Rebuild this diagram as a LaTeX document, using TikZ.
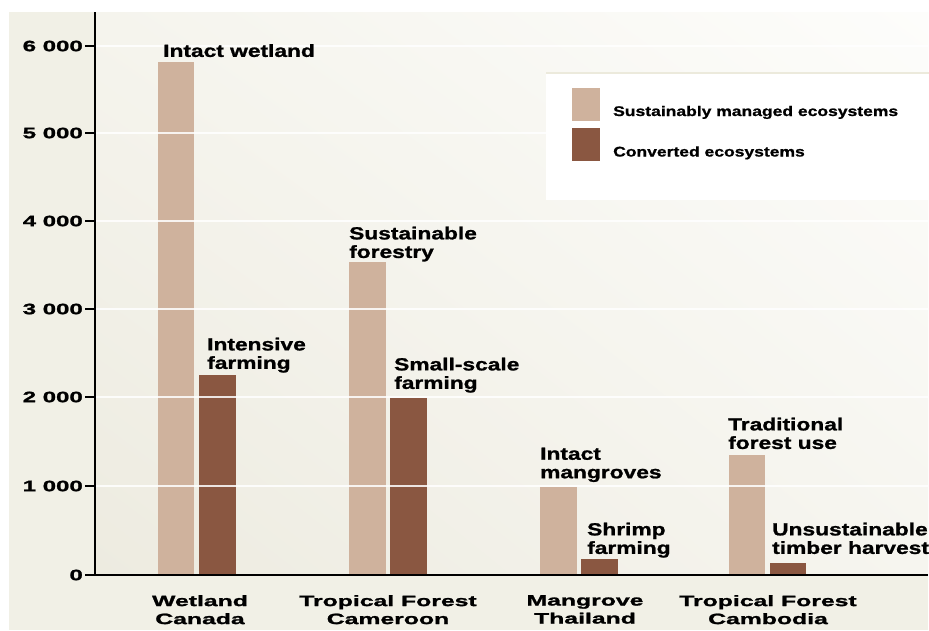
\documentclass[tikz,border=0pt]{standalone}
\usepackage{fontspec}
\usetikzlibrary{shadings}
\setmainfont{Liberation Sans}
\newfontfamily\lblfont[FakeStretch=1.3,FakeBold=1.2]{Liberation Sans}
\newfontfamily\catfont[FakeStretch=1.65,FakeBold=1.5]{Liberation Sans}
\newfontfamily\tickfont[FakeStretch=1.6,FakeBold=1.5]{Liberation Sans}
\newfontfamily\legfont[FakeStretch=1.25,FakeBold=1.0]{Liberation Sans}
\definecolor{lightbar}{HTML}{CFB29D}
\definecolor{darkbar}{HTML}{8A5741}
\definecolor{panel}{HTML}{F1F0E6}
\definecolor{legline}{HTML}{ECEADC}
\definecolor{shLL}{HTML}{EDEBE0}
\definecolor{shUR}{HTML}{FDFDFB}
\definecolor{shUL}{HTML}{F5F4ED}
\definecolor{shLR}{HTML}{F6F5EF}
\begin{document}
\begin{tikzpicture}[x=1pt,y=-1pt,
  barlabel/.style={anchor=north west,inner sep=0pt,align=left,
    font=\lblfont\bfseries\fontsize{17.5}{18.5}\selectfont},
  catlabel/.style={anchor=north,inner sep=0pt,align=center,
    font=\catfont\bfseries\fontsize{15}{18}\selectfont},
  ticklabel/.style={anchor=east,inner sep=0pt,
    font=\tickfont\bfseries\fontsize{15}{18}\selectfont},
  leglabel/.style={anchor=base west,inner sep=0pt,
    font=\legfont\bfseries\fontsize{14}{16}\selectfont},
  lbar/.style={fill=lightbar},
  dbar/.style={fill=darkbar},
  grid/.style={white,line width=1.5pt,opacity=0.85},
  axis/.style={black,line width=1.6pt}
]
\useasboundingbox (0,0) rectangle (929,630);
\fill[white] (0,0) rectangle (929,630);
% panel
\fill[panel] (9,12) rectangle (928,630);
\shade[lower left=shLL, upper right=shUR, upper left=shUL, lower right=shLR]
  (95,12) rectangle (928,575);
% bars
\fill[lbar] (158,62) rectangle (194,575);
\fill[dbar] (199,375) rectangle (236,575);
\fill[lbar] (349,262) rectangle (386,575);
\fill[dbar] (390,398) rectangle (427,575);
\fill[lbar] (540,487) rectangle (577,575);
\fill[dbar] (581,559) rectangle (618,575);
\fill[lbar] (729,455) rectangle (765,575);
\fill[dbar] (770,563) rectangle (806,575);
% grid lines
\foreach \yy in {46,133,221,309,397,486}
  \draw[grid] (96,\yy) -- (928,\yy);
% legend
\fill[white] (546,73) rectangle (929,200);
\draw[legline,line width=1.5pt] (546,73) -- (929,73);
\fill[lightbar] (572,88) rectangle (600,121);
\fill[darkbar] (572,128) rectangle (600,161);
\node[leglabel] (leg1) at (613,116) {Sustainably managed ecosystems};
\node[leglabel] (leg2) at (613,156.5) {Converted ecosystems};
% axes
\coordinate (ytop) at (95,12);
\coordinate (orig) at (95,575);
\coordinate (xend) at (928,575);
\draw[axis] (ytop) -- (orig) -- (xend);
% ticks
\foreach \yy/\lab [count=\i] in {575/0,486/1 000,397/2 000,309/3 000,221/4 000,133/5 000,46/6 000}{
  \coordinate (t\i) at (85,\yy);
  \draw[black,line width=1.2pt] (t\i) -- (95,\yy);
  \node[ticklabel] (tl\i) at (83,\yy) {\lab};
}
% bar labels
\node[barlabel] (l1) at (163,44) {Intact wetland};
\node[barlabel] (l2) at (207,337.5) {Intensive\\farming};
\node[barlabel] (l3) at (349,226.5) {Sustainable\\forestry};
\node[barlabel] (l4) at (394,357.5) {Small-scale\\farming};
\node[barlabel] (l5) at (540,447.5) {Intact\\mangroves};
\node[barlabel] (l6) at (587,522.5) {Shrimp\\farming};
\node[barlabel] (l7) at (728,417.5) {Traditional\\forest use};
\node[barlabel] (l8) at (772,522.5) {Unsustainable\\timber harvest};
% category labels
\node[catlabel] (c1) at (200,595) {Wetland\\Canada};
\node[catlabel] (c2) at (388,595) {Tropical Forest\\Cameroon};
\node[catlabel] (c3) at (585,595) {Mangrove\\Thailand};
\node[catlabel] (c4) at (768,595) {Tropical Forest\\Cambodia};
\end{tikzpicture}
\end{document}
